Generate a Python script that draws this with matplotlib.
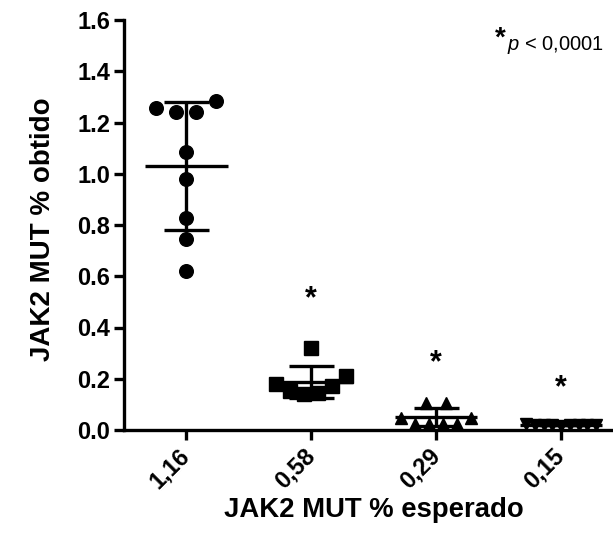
import numpy as np
import matplotlib
matplotlib.use("Agg")
import matplotlib.pyplot as plt

plt.rcParams['font.family'] = ['Liberation Sans', 'DejaVu Sans']
plt.rcParams['mathtext.fontset'] = 'custom'
plt.rcParams['mathtext.it'] = 'Liberation Sans:italic'
plt.rcParams['mathtext.rm'] = 'Liberation Sans'

# ---- data ----
categories = ["1,16", "0,58", "0,29", "0,15"]
group_116 = [1.257, 1.241, 1.241, 1.284, 1.085, 0.979, 0.827, 0.745, 0.620]
group_058 = [0.320, 0.180, 0.152, 0.140, 0.144, 0.172, 0.211]
group_029 = [0.105, 0.105, 0.047, 0.023, 0.023, 0.023, 0.023, 0.047]
group_015 = [0.022, 0.020, 0.019, 0.018, 0.017, 0.018, 0.019, 0.020, 0.021]
groups = [group_116, group_058, group_029, group_015]
significant = [False, True, True, True]
star_y = [None, 0.48, 0.23, 0.133]
yticks = [0.0, 0.2, 0.4, 0.6, 0.8, 1.0, 1.2, 1.4, 1.6]

markers = ['o', 's', '^', 'v']
msizes = [9.8, 10, 8.5, 8.5]


def swarm_offsets(vals, thr=0.055, maxhalf=0.28, maxsp=0.16):
    vals = np.asarray(vals, dtype=float)
    order = np.argsort(-vals, kind='stable')
    clusters = []
    cur = [order[0]]
    for a, b in zip(order[:-1], order[1:]):
        if vals[a] - vals[b] < thr:
            cur.append(b)
        else:
            clusters.append(cur)
            cur = [b]
    clusters.append(cur)
    off = np.zeros(len(vals))
    for cl in clusters:
        cl = sorted(cl)
        n = len(cl)
        if n == 1:
            continue
        sp = min(maxsp, 2 * maxhalf / (n - 1))
        pos = (np.arange(n) - (n - 1) / 2) * sp
        for i, p in zip(cl, pos):
            off[i] = p
    return off


fig = plt.figure(figsize=(6.13, 5.43), dpi=100)
ax = fig.add_axes([124 / 613, 1 - 430 / 543, 1 - 124 / 613, 410 / 543])

lw = 2.4
for i, vals in enumerate(groups):
    v = np.asarray(vals)
    m = v.mean()
    s = v.std(ddof=1)
    ax.hlines(m, i - 0.33, i + 0.33, color='black', lw=lw, zorder=2, clip_on=False)
    ax.vlines(i, m - s, m + s, color='black', lw=lw, zorder=2, clip_on=False)
    ax.hlines([m - s, m + s], i - 0.18, i + 0.18, color='black', lw=lw, zorder=2, clip_on=False)
    xo = i + swarm_offsets(vals)
    ax.plot(xo, v, linestyle='none', marker=markers[i], ms=msizes[i],
            color='black', mec='black', zorder=3, clip_on=False)
    if significant[i]:
        ax.text(i, star_y[i], '*', ha='center', va='baseline', fontsize=22,
                fontweight='bold')

ax.set_xlim(-0.5, 3.416)
ax.set_ylim(0, 1.6)
ax.set_yticks(yticks)
ax.set_yticklabels([f"{t:.1f}" for t in yticks])
ax.set_xticks(range(len(categories)))
ax.set_xticklabels(categories, rotation=45, ha='right', va='center',
                   rotation_mode='anchor')

for sp in ['top', 'right']:
    ax.spines[sp].set_visible(False)
for sp in ['left', 'bottom']:
    ax.spines[sp].set_linewidth(2.4)
    ax.spines[sp].set_capstyle('projecting')

ax.tick_params(axis='both', which='major', length=7, width=2.4, direction='out',
               labelsize=17)
ax.tick_params(axis='x', pad=9)
ax.tick_params(axis='y', pad=3)
for lab in ax.get_xticklabels() + ax.get_yticklabels():
    lab.set_fontweight('bold')

ax.set_ylabel('JAK2 MUT % obtido', fontsize=20, fontweight='bold')
ax.set_xlabel('JAK2 MUT % esperado', fontsize=19.8, fontweight='bold')
ax.yaxis.set_label_coords(-0.140, 0.49)
ax.xaxis.set_label_coords(0.51, -0.163)

fig.text(495 / 613, 1 - 46 / 543, '*', fontsize=20, fontweight='bold',
         ha='left', va='baseline')
fig.text(507 / 613, 1 - 50 / 543, r'$\it{p}$' + ' < 0,0001', fontsize=14.5,
         ha='left', va='baseline')

fig.savefig('out.png', dpi=100)
